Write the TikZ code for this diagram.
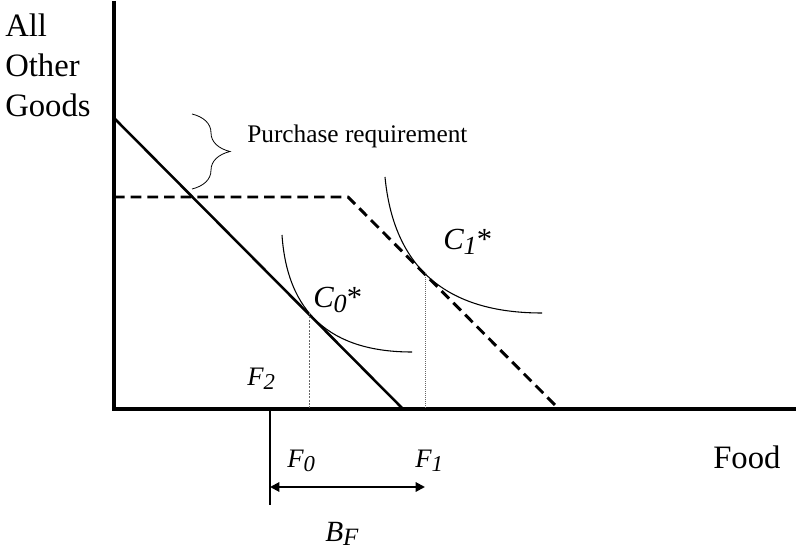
\documentclass[tikz,border=0pt]{standalone}
\usepackage{fontspec}
\setmainfont{Liberation Serif}
\usepackage{graphicx}
\usetikzlibrary{arrows.meta, decorations.pathreplacing}
\newcommand{\sublab}[2]{\textit{#1\raisebox{-0.35ex}{\scalebox{0.85}{#2}}}}

\begin{document}
\begin{tikzpicture}[
  x=0.75pt, y=-0.75pt,
  axis/.style={line width=3pt},
  budget/.style={line width=1.9pt},
  snapbudget/.style={line width=2.2pt, dash pattern=on 8pt off 4.5pt},
  indiff/.style={line width=0.8pt},
  guide/.style={line width=0.5pt, gray!80!black},
  lab/.style={inner sep=0pt, anchor=base west, font=\fontsize{20}{24}\selectfont},
  big/.style={inner sep=0pt, anchor=base west, font=\fontsize{24.5}{30}\selectfont},
]
  \useasboundingbox (0,0) rectangle (796,552);
  \coordinate (ytop) at (114,1);
  \coordinate (origin) at (114,409);
  \coordinate (xend) at (796,409);
  \coordinate (solidtop) at (114,118);
  \coordinate (solidend) at (403,409);
  \coordinate (dashtop) at (114,197);
  \coordinate (kink) at (348,197);
  \coordinate (dashend) at (559,409);
  \coordinate (bracetop) at (192,114);
  \coordinate (bracebot) at (192,189);
  \coordinate (tan0) at (309,313);
  \coordinate (tan1) at (425,273);
  \coordinate (foot0) at (309,409);
  \coordinate (foot1) at (425,409);
  \coordinate (ftwo) at (270,409);
  \coordinate (ftwolow) at (270,505);
  \coordinate (arrowL) at (270,487);
  \coordinate (arrowR) at (425,487);

  \draw[axis] (ytop) -- (origin) -- (xend);
  \draw[budget] (solidtop) -- (solidend);
  \draw[snapbudget] (dashtop) -- (kink) -- (dashend);
  \draw[line width=0.6pt, decorate, decoration={brace, amplitude=28.5pt}] (bracetop) -- (bracebot);

  \draw[indiff] (282,235) .. controls (287.3,313) and (330.7,352) .. (412,352);
  \draw[indiff] (385,177) .. controls (393.7,267.7) and (446,313) .. (542,313);

  \draw[guide, dash pattern=on 1.5pt off 1pt] (tan0) -- (foot0);
  \draw[guide, densely dotted] (tan1) -- (foot1);
  \draw[line width=0.8pt] (ftwo) -- (ftwolow);
  \draw[line width=1.5pt, {Triangle[length=7pt,width=7pt]}-{Triangle[length=7pt,width=7pt]}] (arrowL) -- (arrowR);

  \node[big, anchor=north west, align=left] (ylabel) at (5,14) {All\\Other\\Goods};
  \node[big] (xlabel) at (713,468) {Food};
  \node[inner sep=0pt, anchor=base west, font=\fontsize{19}{23}\selectfont] (purchase) at (247,143) {Purchase requirement};
  \node[lab, font=\fontsize{23}{27}\selectfont] (czero) at (313,308) {\sublab{C}{0}*};
  \node[lab, font=\fontsize{23}{27}\selectfont] (cone) at (443,250) {\sublab{C}{1}*};
  \node[lab] (fzero) at (287,467) {\sublab{F}{0}};
  \node[lab] (fone) at (415,467) {\sublab{F}{1}};
  \node[lab] (ftwolab) at (247,385) {\sublab{F}{2}};
  \node[lab, font=\fontsize{22}{26}\selectfont] (bf) at (325,541) {\sublab{B}{F}};
\end{tikzpicture}
\end{document}
